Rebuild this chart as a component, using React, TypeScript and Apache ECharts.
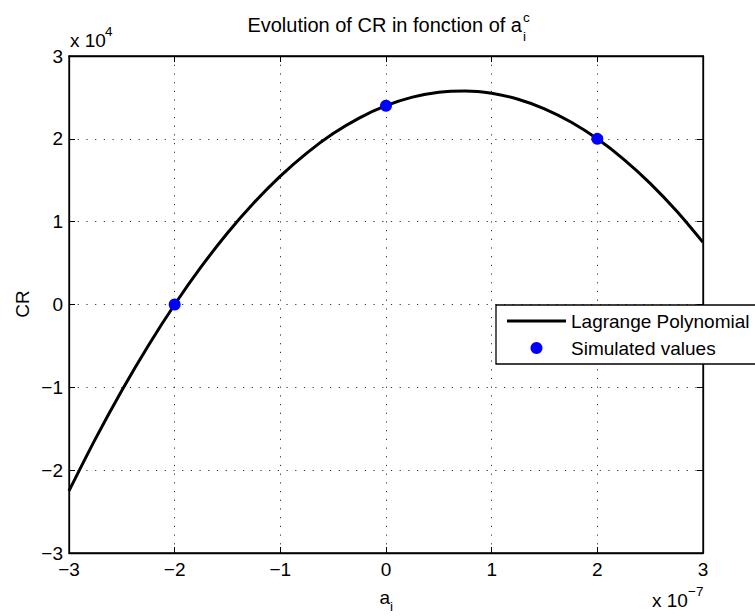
import React, { useEffect, useRef } from 'react';
import * as echarts from 'echarts';

// ---- data (x in units of 1e-7, CR in units of 1e4) ----
const xTicks = [-3, -2, -1, 0, 1, 2, 3];
const yTicks = [-3, -2, -1, 0, 1, 2, 3];
const curveX = [-3, -2.75, -2.5, -2.25, -2, -1.75, -1.5, -1.25, -1, -0.75, -0.5, -0.25, 0, 0.25, 0.5, 0.75, 1, 1.25, 1.5, 1.75, 2, 2.25, 2.5, 2.75, 3];
const curveY = [-2.25, -1.622, -1.038, -0.497, 0, 0.453, 0.863, 1.228, 1.55, 1.828, 2.063, 2.253, 2.4, 2.503, 2.563, 2.578, 2.55, 2.478, 2.363, 2.203, 2.0, 1.753, 1.463, 1.128, 0.75];
const simX = [-2, 0, 2];
const simY = [0, 2.4, 2.0];
const seriesNames = ['Lagrange Polynomial', 'Simulated values'];

const FONT = "'Liberation Sans', Arial, Helvetica, sans-serif";
const FS = 19;

const fmt = (v: number) => (v < 0 ? '\u2212' + Math.abs(v) : String(v));

export default function App() {
  const ref = useRef<HTMLDivElement>(null);

  useEffect(() => {
    if (!ref.current) return;
    const chart = echarts.init(ref.current, undefined, { renderer: 'svg' });

    const splitLine = {
      show: true,
      lineStyle: { color: '#333', width: 1, type: [1.2, 7.5] as any },
    };
    const axisLine = { show: true, onZero: false, lineStyle: { color: '#000', width: 1.3 } };
    const tick = { show: true, inside: true, length: 6, lineStyle: { color: '#000', width: 1 } };
    const label = { fontSize: FS, color: '#000', fontFamily: FONT };

    chart.setOption({
      animation: false,
      backgroundColor: '#fff',
      grid: {
        left: 69,
        right: 52,
        top: 56,
        bottom: 63,
        show: true,
        borderColor: '#000',
        borderWidth: 1.3,
        backgroundColor: 'transparent',
      },
      xAxis: [
        {
          type: 'value',
          min: xTicks[0],
          max: xTicks[xTicks.length - 1],
          interval: 1,
          position: 'bottom',
          axisLine,
          axisTick: tick,
          splitLine,
          axisLabel: { ...label, margin: 7, formatter: fmt },
        },
        {
          type: 'value',
          min: xTicks[0],
          max: xTicks[xTicks.length - 1],
          interval: 1,
          position: 'top',
          axisLine,
          axisTick: tick,
          splitLine: { show: false },
          axisLabel: { show: false },
        },
      ],
      yAxis: [
        {
          type: 'value',
          min: yTicks[0],
          max: yTicks[yTicks.length - 1],
          interval: 1,
          position: 'left',
          axisLine,
          axisTick: tick,
          splitLine,
          axisLabel: { ...label, margin: 6, formatter: fmt },
        },
        {
          type: 'value',
          min: yTicks[0],
          max: yTicks[yTicks.length - 1],
          interval: 1,
          position: 'right',
          axisLine,
          axisTick: tick,
          splitLine: { show: false },
          axisLabel: { show: false },
        },
      ],
      legend: {
        orient: 'vertical',
        left: 496,
        top: 305,
        itemWidth: 59,
        itemHeight: 12,
        itemGap: 7,
        padding: [6, 10, 6, 11],
        borderColor: '#000',
        borderWidth: 1.3,
        borderRadius: 0,
        backgroundColor: '#fff',
        textStyle: { fontSize: FS, lineHeight: 20, color: '#000', fontFamily: FONT },
        data: [
          { name: seriesNames[0], icon: 'path://M0,0H59V3H0Z', itemStyle: { color: '#000' } },
          { name: seriesNames[1], icon: 'circle', itemStyle: { color: '#0000ff', opacity: 1 } },
        ],
      },
      series: [
        {
          name: seriesNames[0],
          type: 'line',
          data: curveX.map((x, i) => [x, curveY[i]]),
          symbol: 'none',
          smooth: 0.3,
          lineStyle: { color: '#000', width: 3 },
          itemStyle: { color: '#000' },
          z: 3,
        },
        {
          name: seriesNames[1],
          type: 'scatter',
          data: simX.map((x, i) => [x, simY[i]]),
          symbol: 'circle',
          symbolSize: 12,
          itemStyle: { color: '#0000ff', opacity: 1 },
          z: 4,
        },
      ],
      graphic: [
        // title
        {
          type: 'text',
          x: 522,
          y: 25,
          style: {
            text: 'Evolution of CR in fonction of a',
            fontSize: 20,
            fontFamily: FONT,
            fill: '#000',
            textAlign: 'right',
            textVerticalAlign: 'middle',
          },
        },
        {
          type: 'text',
          x: 523,
          y: 17,
          style: { text: 'c', fontSize: 13.5, fontFamily: FONT, fill: '#000', textAlign: 'left', textVerticalAlign: 'middle' },
        },
        {
          type: 'text',
          x: 523,
          y: 36,
          style: { text: 'i', fontSize: 13.5, fontFamily: FONT, fill: '#000', textAlign: 'left', textVerticalAlign: 'middle' },
        },
        // y exponent
        {
          type: 'text',
          x: 70,
          y: 40,
          style: { text: 'x 10', fontSize: FS, fontFamily: FONT, fill: '#000', textAlign: 'left', textVerticalAlign: 'middle' },
        },
        {
          type: 'text',
          x: 105,
          y: 31,
          style: { text: '4', fontSize: 13.5, fontFamily: FONT, fill: '#000', textAlign: 'left', textVerticalAlign: 'middle' },
        },
        // x exponent
        {
          type: 'text',
          x: 652,
          y: 600,
          style: { text: 'x 10', fontSize: FS, fontFamily: FONT, fill: '#000', textAlign: 'left', textVerticalAlign: 'middle' },
        },
        {
          type: 'text',
          x: 688,
          y: 591,
          style: { text: '\u22127', fontSize: 13.5, fontFamily: FONT, fill: '#000', textAlign: 'left', textVerticalAlign: 'middle' },
        },
        // x axis name a_i
        {
          type: 'text',
          x: 390,
          y: 597,
          style: { text: 'a', fontSize: FS, fontFamily: FONT, fill: '#000', textAlign: 'right', textVerticalAlign: 'middle' },
        },
        {
          type: 'text',
          x: 390,
          y: 606,
          style: { text: 'i', fontSize: 13.5, fontFamily: FONT, fill: '#000', textAlign: 'left', textVerticalAlign: 'middle' },
        },
        // y axis name
        {
          type: 'text',
          x: 22,
          y: 304,
          rotation: Math.PI / 2,
          style: { text: 'CR', fontSize: FS, fontFamily: FONT, fill: '#000', textAlign: 'center', textVerticalAlign: 'middle' },
        },
      ],
    });

    return () => chart.dispose();
  }, []);

  return <div ref={ref} style={{ width: 755, height: 616, position: 'absolute', left: 0, top: 0 }} />;
}
